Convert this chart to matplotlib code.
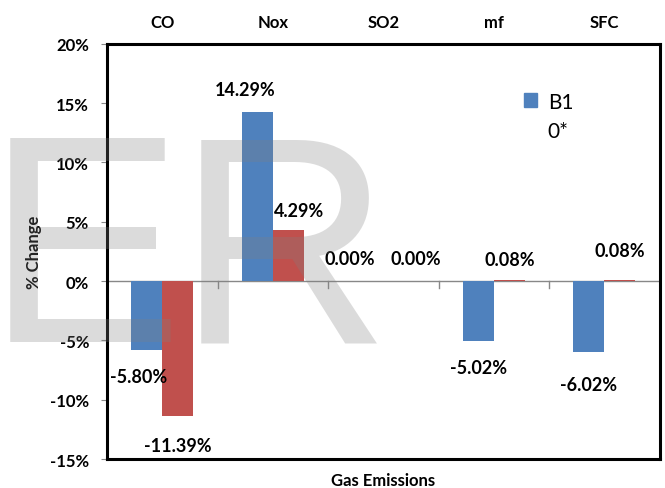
import matplotlib
matplotlib.use("Agg")
import matplotlib.pyplot as plt
import matplotlib.patches as mpatches
import numpy as np

plt.rcParams['font.family'] = ['Lato', 'DejaVu Sans']

# data
categories = ['CO', 'Nox', 'SO2', 'mf', 'SFC']
b1 = [-5.80, 14.29, 0.00, -5.02, -6.02]
zero_star = [-11.39, 4.29, 0.00, 0.08, 0.08]
yticks = [-15, -10, -5, 0, 5, 10, 15, 20]

blue = '#4F81BD'
red = '#C0504D'

fig = plt.figure(figsize=(6.65, 4.89), dpi=100)
ax = fig.add_axes([0.161, 0.0593, 0.831, 0.849])

x = np.arange(len(categories))
w = 0.28
ax.bar(x - w / 2, b1, w, color=blue, label='B1', zorder=2)
ax.bar(x + w / 2, zero_star, w, color=red, zorder=2)

ax.set_xlim(-0.5, len(categories) - 0.5)
ax.set_ylim(-15, 20)
ax.set_yticks(yticks)
ax.set_yticklabels([f'{t}%' for t in yticks], fontsize=12, fontweight='bold')
ax.tick_params(axis='y', length=4, color='#888888', pad=9)

# categories on top
ax.xaxis.set_ticks_position('top')
ax.set_xticks(x)
ax.set_xticklabels(categories, fontsize=12, fontweight='bold')
ax.tick_params(axis='x', length=0, pad=10)

for s in ax.spines.values():
    s.set_linewidth(2.2)
    s.set_color('black')

# zero line with small category ticks
ax.axhline(0, color='#888888', lw=1, zorder=1)
for b in np.arange(0.5, len(categories) - 0.5, 1.0):
    ax.plot([b, b], [0, -0.6], color='#888888', lw=1, zorder=1)

ax.set_ylabel('% Change', fontsize=12, fontweight='bold', labelpad=6)
ax.set_xlabel('Gas Emissions', fontsize=12, fontweight='bold', labelpad=9)
ax.xaxis.set_label_position('bottom')

# data labels (offsets in points, as placed in the original)
b1_off = [(-6, -19), (-9, 16), (-13, 16), (0, -19), (0, -23)]
zs_off = [(0, -21), (8, 14), (12, 16), (0, 15), (0, 21)]
for i in range(len(categories)):
    v = b1[i]
    dx, dy = b1_off[i]
    ax.annotate(f'{v:.2f}%', (x[i] - w / 2, v), xytext=(dx, dy), textcoords='offset points',
                ha='center', va='center', fontsize=13, fontweight='bold')
    v = zero_star[i]
    dx, dy = zs_off[i]
    ax.annotate(f'{v:.2f}%', (x[i] + w / 2, v), xytext=(dx, dy), textcoords='offset points',
                ha='center', va='center', fontsize=13, fontweight='bold')

# legend: only B1 has a visible key
h1 = mpatches.Patch(color=blue)
h2 = mpatches.Patch(color='none')
ax.legend([h1, h2], ['B1', '0*'], loc='upper left', bbox_to_anchor=(0.72, 0.93),
          frameon=False, fontsize=15, handlelength=0.65, handleheight=0.65,
          handletextpad=0.5, labelspacing=0.45)

# watermark
fig.text(-0.022, 0.30, 'E', fontsize=213, family='Liberation Sans', color='#808080',
         alpha=0.28, zorder=10)
fig.text(0.266, 0.30, 'R', fontsize=213, family='Liberation Sans', color='#808080',
         alpha=0.28, zorder=10)

fig.savefig('out.png', dpi=100)
